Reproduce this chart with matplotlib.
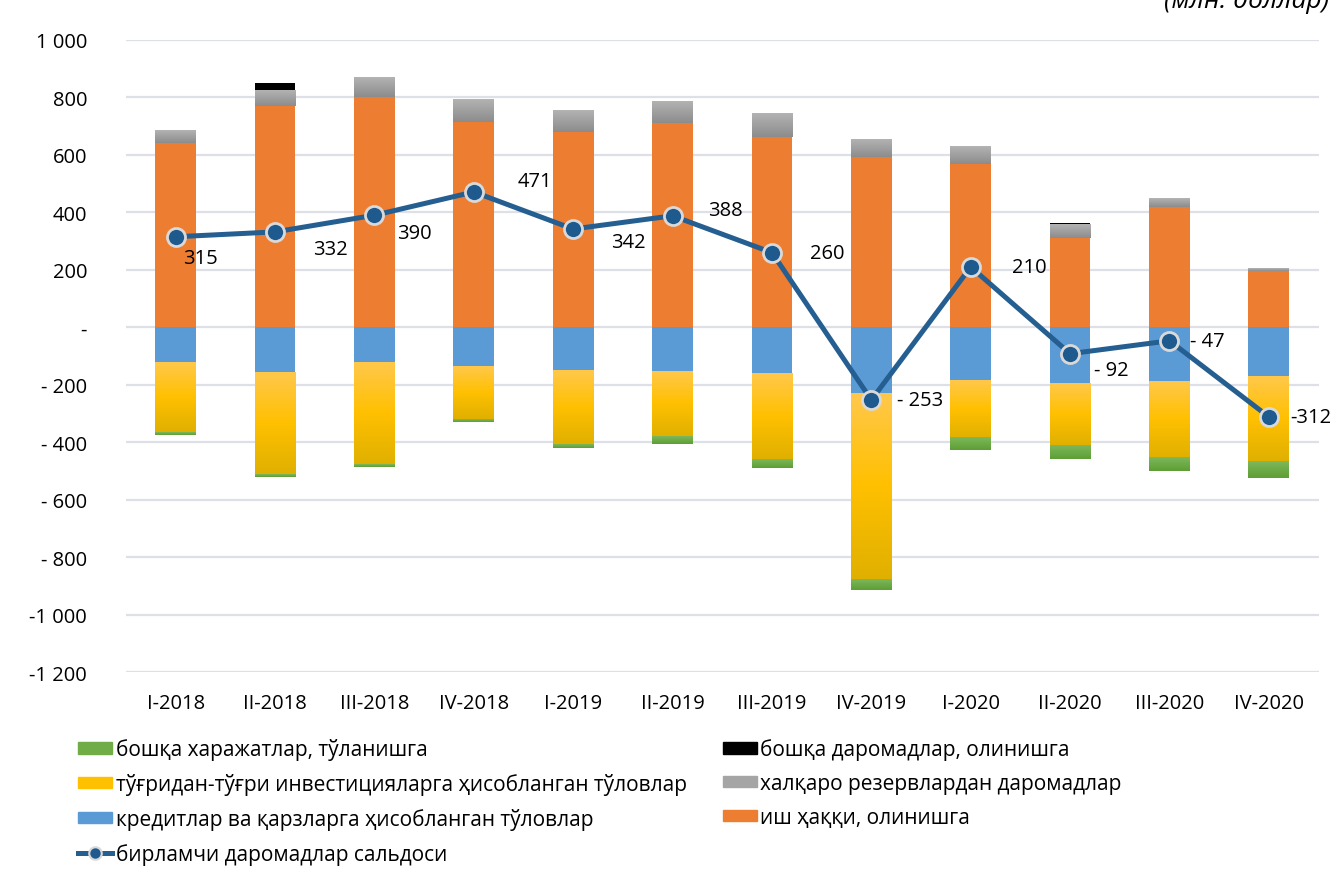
import matplotlib.pyplot as plt
import numpy as np
from matplotlib.colors import LinearSegmentedColormap
from matplotlib.patches import Patch
from matplotlib.lines import Line2D
from matplotlib.ticker import FuncFormatter

plt.rcParams['font.family'] = ['Open Sans', 'Noto Sans', 'DejaVu Sans']

quarters = ['I-2018', 'II-2018', 'III-2018', 'IV-2018', 'I-2019', 'II-2019',
            'III-2019', 'IV-2019', 'I-2020', 'II-2020', 'III-2020', 'IV-2020']

# receipts (positive)
wages = [640, 770, 800, 715, 680, 710, 661, 592, 569, 311, 418, 195]
reserves = [42, 55, 69, 78, 75, 75, 83, 61, 60, 46, 30, 8]
other_inc = [2, 24, 2, 2, 2, 2, 2, 2, 2, 5, 3, 2]
# payments (negative)
loans = [-122, -157, -122, -136, -150, -153, -160, -230, -184, -198, -188, -171]
fdi = [-243, -355, -355, -184, -257, -226, -299, -647, -200, -213, -264, -295]
other_exp = [-9, -9, -9, -10, -13, -27, -31, -37, -43, -47, -48, -58]
# balance
balance = [315, 332, 390, 471, 342, 388, 260, -253, 210, -92, -47, -312]
balance_labels = ['315', '332', '390', '471', '342', '388', '260', '- 253',
                  '210', '- 92', '- 47', '-312']

names = ['бошқа харажатлар, тўланишга',
         'тўғридан-тўғри инвестицияларга ҳисобланган тўловлар',
         'кредитлар ва қарзларга ҳисобланган тўловлар',
         'бирламчи даромадлар сальдоси',
         'бошқа даромадлар, олинишга',
         'халқаро резервлардан даромадлар',
         'иш ҳаққи, олинишга']

fig = plt.figure(figsize=(13.4, 8.7), dpi=100)
ax = fig.add_axes([0.094, 0.2264, 0.890, 0.7265])

x = np.arange(len(quarters))
w = 0.41

b_wage = ax.bar(x, wages, w, color='#ED7D31', zorder=2)
b_res = ax.bar(x, reserves, w, bottom=wages, color='#A5A5A5', zorder=2)
b_oth = ax.bar(x, other_inc, w, bottom=np.add(wages, reserves), color='black', zorder=2)
b_loan = ax.bar(x, loans, w, color='#5B9BD5', zorder=2)
b_fdi = ax.bar(x, fdi, w, bottom=loans, color='#FFC000', zorder=2)
b_exp = ax.bar(x, other_exp, w, bottom=np.add(loans, fdi), color='#70AD47', zorder=2)


def shade(bars, cols):
    cm = LinearSegmentedColormap.from_list('g', cols)
    grad = np.linspace(0, 1, 200).reshape(-1, 1)
    for b in bars:
        x0, y0, bw, bh = b.get_x(), b.get_y(), b.get_width(), b.get_height()
        ax.imshow(grad, cmap=cm, extent=(x0, x0 + bw, min(y0, y0 + bh), max(y0, y0 + bh)),
                  origin='upper', aspect='auto', zorder=2.1)


shade(b_res, ['#B3B3B3', '#8C8C8C'])
shade(b_fdi, ['#FFC84B', '#FFC000', '#E0B000'])
shade(b_exp, ['#7DB85A', '#5E9E35'])

ax.plot(x, balance, color='#255E91', lw=3.6, marker='o', ms=13,
        mfc='#1F5A8F', mec='#D9D9D9', mew=2, zorder=4)

offsets = [(18, -15), (40, -12), (29, -13), (44, 8), (40, -9), (38, 4),
           (40, 0), (35, 0), (42, 0), (30, -12), (27, 0), (30, 0)]
for xi, v, lab, off in zip(x, balance, balance_labels, offsets):
    ax.annotate(lab, (xi, v), xytext=off, textcoords='offset points',
                ha='center', va='center', fontsize=14.5, zorder=5)

ax.set_xlim(-0.5, len(quarters) - 0.5)
ax.set_ylim(-1200, 1000)
ax.set_yticks(range(-1200, 1001, 200))


def yfmt(v, pos):
    v = int(round(v))
    if v == 0:
        return '-'
    s = f'{abs(v):,}'.replace(',', ' ')
    if v < 0:
        return ('-' if abs(v) >= 1000 else '- ') + s
    return s


ax.yaxis.set_major_formatter(FuncFormatter(yfmt))
ax.set_xticks(x)
ax.set_xticklabels(quarters)
ax.tick_params(length=0, labelsize=14.5)
ax.tick_params(axis='y', pad=28)
ax.tick_params(axis='x', pad=15)
ax.grid(axis='y', color='#DDE1E7', lw=1.6, zorder=0)
ax.set_axisbelow(True)
for s in ax.spines.values():
    s.set_visible(False)

fig.text(0.992, 1 - 8 / 870, '(млн. доллар)', ha='right', va='baseline',
         fontsize=19, style='italic')

handles = [Patch(color='#70AD47'), Patch(color='#FFC000'), Patch(color='#5B9BD5'),
           Line2D([], [], color='#255E91', lw=3.6, marker='o', ms=9,
                  mfc='#1F5A8F', mec='#D9D9D9', mew=1.5),
           Patch(color='black'), Patch(color='#A5A5A5'), Patch(color='#ED7D31')]
fig.legend(handles, names, ncol=2, loc='upper left',
           bbox_to_anchor=(78 / 1340, 1 - 739 / 870), frameon=False,
           fontsize=15, handlelength=1.65, handleheight=0.5, handletextpad=0.15,
           columnspacing=1.75, labelspacing=0.62, borderpad=0, borderaxespad=0)

fig.savefig('out.png', dpi=100)
